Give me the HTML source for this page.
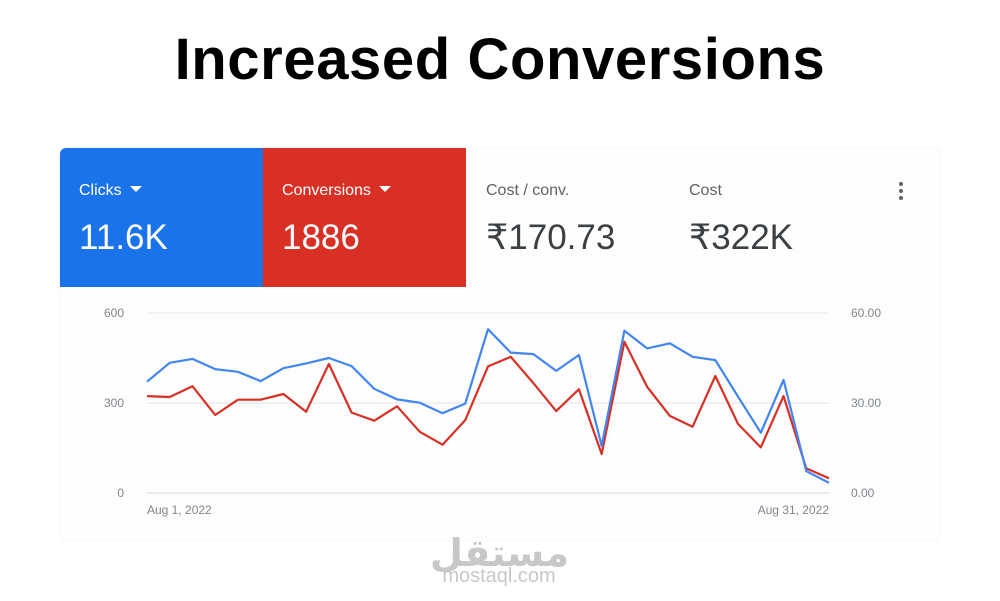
<!DOCTYPE html>
<html><head><meta charset="utf-8">
<style>
body{margin:0;width:1000px;height:601px;background:#fff;font-family:"Liberation Sans",sans-serif;position:relative;overflow:hidden}
.title{position:absolute;top:26px;left:0;width:1000px;text-align:center;font-size:58px;font-weight:bold;color:#000;letter-spacing:0.6px}
.card{position:absolute;left:60px;top:148px;width:880px;height:392px;background:#fdfdfd;border-radius:6px;box-shadow:0 0 2px rgba(0,0,0,0.08)}
.tile{position:absolute;top:148px;height:139px;width:203px;color:#fff}
.tile .l{position:absolute;left:19px;top:34px;font-size:16px}
.tile .v{position:absolute;left:19px;top:70px;font-size:35px}
.tri{display:inline-block;width:0;height:0;border-left:6px solid transparent;border-right:6px solid transparent;border-top:6px solid #fff;margin-left:8px;vertical-align:3px}
.plain{position:absolute;top:148px;color:#3c4043}
.plain .l{position:absolute;top:34px;font-size:16px;color:#5f6368;white-space:nowrap}
.plain .v{position:absolute;top:70px;font-size:35px;white-space:nowrap}
.wm{position:absolute;left:430px;width:138px;text-align:center;color:#c8c8c8}
</style></head><body>
<div class="title">Increased Conversions</div>
<div class="card"></div>
<div class="tile" style="left:60px;background:#1a73e8;border-top-left-radius:6px"><div class="l">Clicks<span class="tri"></span></div><div class="v">11.6K</div></div>
<div class="tile" style="left:263px;background:#d93025"><div class="l">Conversions<span class="tri"></span></div><div class="v">1886</div></div>
<div class="plain" style="left:486px"><div class="l">Cost / conv.</div><div class="v">₹170.73</div></div>
<div class="plain" style="left:689px"><div class="l">Cost</div><div class="v">₹322K</div></div>
<div style="position:absolute;left:899px;top:182px;width:5px">
<div style="width:4px;height:4px;border-radius:2px;background:#5f6368;margin-bottom:3px"></div><div style="width:4px;height:4px;border-radius:2px;background:#5f6368;margin-bottom:3px"></div><div style="width:4px;height:4px;border-radius:2px;background:#5f6368"></div></div>
<svg id="chart" width="1000" height="601" style="position:absolute;left:0;top:0"></svg>
<div class="wm" style="top:522px;font-size:38px;font-weight:bold;font-family:'Noto Sans CJK SC','DejaVu Sans',sans-serif">مستقل</div>
<div class="wm" style="top:565px;font-size:20px">mostaql.com</div>
<script>
const clicks=[371,434,447,413,404,373,416,432,450,423,347,312,301,266,298,546,468,463,407,460,157,541,482,499,454,443,321,201,377,73,34];
const conversions=[32.3,32.0,35.6,26.0,31.1,31.1,33.0,27.1,43.0,26.8,24.1,28.9,20.4,16.1,24.3,42.2,45.4,36.6,27.3,34.6,13.0,50.4,35.4,25.7,22.1,39.0,23.0,15.2,32.3,8.2,4.9];
const leftTicks=[0,300,600];
const rightTicks=["0.00","30.00","60.00"];
const xLabels=["Aug 1, 2022","Aug 31, 2022"];
const svg=document.getElementById('chart');
const NS='http://www.w3.org/2000/svg';
const x0=147,x1=829,yTop=313,yBot=493;
const xs=i=>x0+(x1-x0)*i/(clicks.length-1);
const yL=v=>yBot-(yBot-yTop)*v/600;
const yR=v=>yBot-(yBot-yTop)*v/60;
function mk(t,a){const e=document.createElementNS(NS,t);for(const k in a)e.setAttribute(k,a[k]);svg.appendChild(e);return e;}
leftTicks.forEach((t,i)=>{
 const y=yL(t);
 const g=mk('line',{x1:x0,x2:x1,y1:y,y2:y,stroke:i==0?'#dadce0':(i==1?'#e3e3e3':'#ececec'),'stroke-width':1});
 
 
 const a=mk('text',{x:124,y:y+4,'text-anchor':'end','font-size':12,fill:'#80868b','font-family':'Liberation Sans'});a.textContent=t;
 
 
 const b=mk('text',{x:851,y:y+4,'font-size':12,fill:'#80868b','font-family':'Liberation Sans'});b.textContent=rightTicks[i];
 
 
});
[[x0,'start',xLabels[0]],[x1,'end',xLabels[1]]].forEach(([x,an,t])=>{
 const e=mk('text',{x:x,y:514,'text-anchor':an,'font-size':12,fill:'#80868b','font-family':'Liberation Sans'});e.textContent=t;
 
 
});
const pr=mk('polyline',{points:conversions.map((v,i)=>xs(i)+','+yR(v)).join(' '),fill:'none',stroke:'#d93025','stroke-width':2.2,'stroke-linejoin':'round'});


const pb=mk('polyline',{points:clicks.map((v,i)=>xs(i)+','+yL(v)).join(' '),fill:'none',stroke:'#4285f4','stroke-width':2.2,'stroke-linejoin':'round'});


</script>
</body></html>
